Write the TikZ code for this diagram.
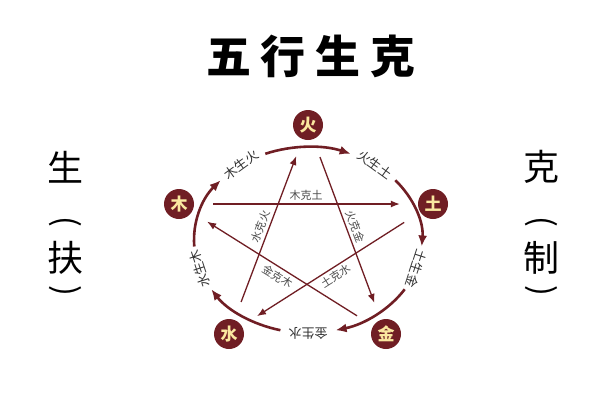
\documentclass[tikz,border=0pt]{standalone}
\usepackage{fontspec}
\setmainfont{Noto Sans CJK SC}
\usetikzlibrary{arrows.meta}
\definecolor{wxred}{RGB}{112,30,36}
\definecolor{wxcream}{RGB}{250,232,160}

\begin{document}
\begin{tikzpicture}
[every node/.style={inner sep=0pt},
 elem/.style={circle, minimum size=30pt, fill=wxred, text=wxcream, font=\bfseries\fontsize{17}{17}\selectfont},
 ring/.style={line width=2.6pt, color=wxred, -{Latex[length=11pt,width=9pt]}},
 ke/.style={line width=1.3pt, color=wxred, -{Latex[length=9pt,width=7pt]}, shorten >=18pt, shorten <=19pt},
 ringlabel/.style={font=\fontsize{13}{13}\selectfont, text=black!80},
 kelabel/.style={font=\fontsize{11}{11}\selectfont, text=black!70, sloped, pos=0.5},
 side/.style={font=\fontsize{36}{36}\selectfont},
 sidepar/.style={font=\fontsize{32}{32}\selectfont, rotate=-90}]
\useasboundingbox [fill=white] (0pt,0pt) rectangle (600pt,-400pt);
\node (title) [font=\bfseries\fontsize{45}{45}\selectfont] at (311pt, -56pt) {五\hspace{10pt}行\hspace{10pt}生\hspace{10pt}克};
% left column
\node (sheng) [side] at (65pt, -167pt) {生};
\node (lpar1) [sidepar] at (65pt, -222pt) {(};
\node (fu) [side] at (65pt, -258pt) {扶};
\node (lpar2) [sidepar] at (65pt, -291pt) {)};
% right column
\node (ke) [side] at (541pt, -167pt) {克};
\node (rpar1) [sidepar] at (541pt, -222pt) {(};
\node (zhi) [side] at (541pt, -258pt) {制};
\node (rpar2) [sidepar] at (541pt, -291pt) {)};
% five elements
\node (huo) [elem] at (308pt, -125pt) {火};
\node (tu) [elem] at (433pt, -204pt) {土};
\node (jin) [elem] at (386pt, -334pt) {金};
\node (shui) [elem] at (229pt, -334pt) {水};
\node (mu) [elem] at (179pt, -204pt) {木};
% sheng ring
\draw [ring] (265.3pt, -153.8pt) arc [start angle=112, end angle=68, x radius=114pt, y radius=93pt];
\draw [ring] (395.3pt, -180.2pt) arc [start angle=40, end angle=-4, x radius=114pt, y radius=93pt];
\draw [ring] (404.7pt, -289.3pt) arc [start angle=-32, end angle=-76, x radius=114pt, y radius=93pt];
\draw [ring] (280.4pt, -330.2pt) arc [start angle=-104, end angle=-148, x radius=114pt, y radius=93pt];
\draw [ring] (194.3pt, -246.5pt) arc [start angle=184, end angle=140, x radius=114pt, y radius=93pt];
\node (muhuo) [ringlabel, rotate=36] at (241pt, -164.8pt) {木生火};
\node (huotu) [ringlabel, rotate=-36] at (375pt, -164.8pt) {火生土};
\node (tujin) [ringlabel, rotate=-108] at (416.4pt, -268.7pt) {土生金};
\node (jinshui) [ringlabel, rotate=180] at (308pt, -333pt) {金生水};
\node (shuimu) [ringlabel, rotate=108] at (199.6pt, -268.7pt) {水生木};
% ke star
\draw [ke] (mu) to node [kelabel, above=3pt] {木克土} (tu);
\draw [ke] (tu) to node [kelabel, below=3pt] {土克水} (shui);
\draw [ke] (shui) to node [kelabel, above=3pt] {水克火} (huo);
\draw [ke] (huo) to node [kelabel, above=3pt] {火克金} (jin);
\draw [ke] (jin) to node [kelabel, below=3pt] {金克木} (mu);
\end{tikzpicture}
\end{document}
